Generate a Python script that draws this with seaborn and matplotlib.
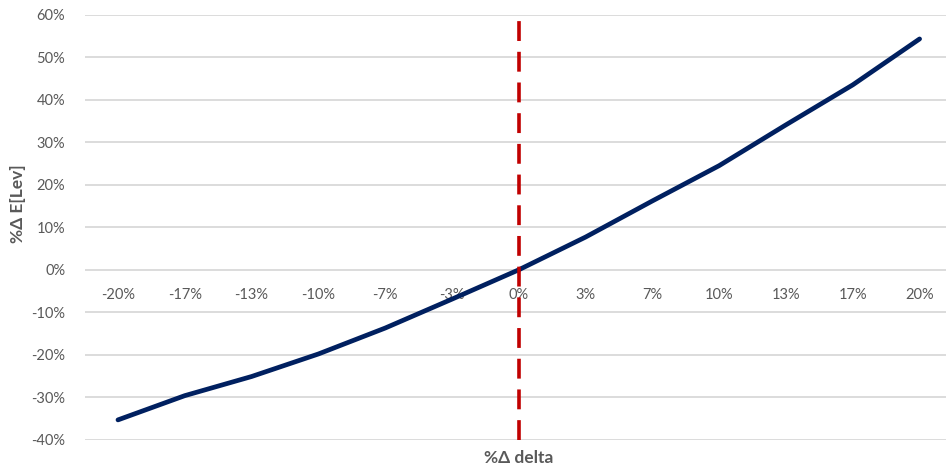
import matplotlib
matplotlib.use("Agg")
import matplotlib.pyplot as plt
import matplotlib.ticker as mticker
import seaborn as sns
import pandas as pd

# Change in delta (category labels) and resulting change in expected leverage
delta_labels = ["-20%", "-17%", "-13%", "-10%", "-7%", "-3%", "0%",
                "3%", "7%", "10%", "13%", "17%", "20%"]
lev_change = [-0.353, -0.296, -0.251, -0.198, -0.137, -0.069, 0.0,
              0.077, 0.162, 0.245, 0.341, 0.435, 0.543]
y_ticks = [-0.4, -0.3, -0.2, -0.1, 0.0, 0.1, 0.2, 0.3, 0.4, 0.5, 0.6]

df = pd.DataFrame({"delta": delta_labels, "lev": lev_change})

sns.set_theme(style="white")
plt.rcParams["font.family"] = ["Lato", "DejaVu Sans"]
plt.rcParams["axes.unicode_minus"] = False

fig = plt.figure(figsize=(9.46, 4.74), dpi=100)
ax = fig.add_axes([0.0894, 0.072, 0.918, 0.897])

text_grey = "#595959"

sns.lineplot(data=df, x="delta", y="lev", sort=False, ax=ax,
             color="#002060", linewidth=3.4, solid_capstyle="round", zorder=3)

zero_pos = delta_labels.index("0%")
ax.axvline(zero_pos, color="#c00000", linewidth=2.6, linestyle=(0, (5.5, 3)),
           zorder=4)

ax.set_xlim(-0.5, len(delta_labels) - 0.5)
ax.set_ylim(-0.4, 0.6)
ax.set_yticks(y_ticks)
ax.yaxis.set_major_formatter(mticker.PercentFormatter(1.0, decimals=0))
ax.grid(axis="y", color="#d9d9d9", linewidth=1.3)
ax.grid(axis="x", visible=False)
ax.set_axisbelow(True)

for s in ["top", "right", "left"]:
    ax.spines[s].set_visible(False)
ax.spines["bottom"].set_position(("data", 0))
ax.spines["bottom"].set_visible(False)

ax.tick_params(axis="x", length=0, pad=13, labelsize=10.5, labelcolor=text_grey)
ax.tick_params(axis="y", length=0, pad=14, labelsize=10.5, labelcolor=text_grey)

ax.set_xlabel("")
ax.set_ylabel("")
fig.text(0.019, 0.57, "%Δ E[Lev]", ha="center", va="center", rotation=90,
         fontsize=12.5, fontweight="bold", color=text_grey)
fig.text(0.5486, 0.033, "%Δ delta", ha="center", va="center", fontsize=12.5,
         fontweight="bold", color=text_grey)

fig.savefig("out.png", dpi=100)
